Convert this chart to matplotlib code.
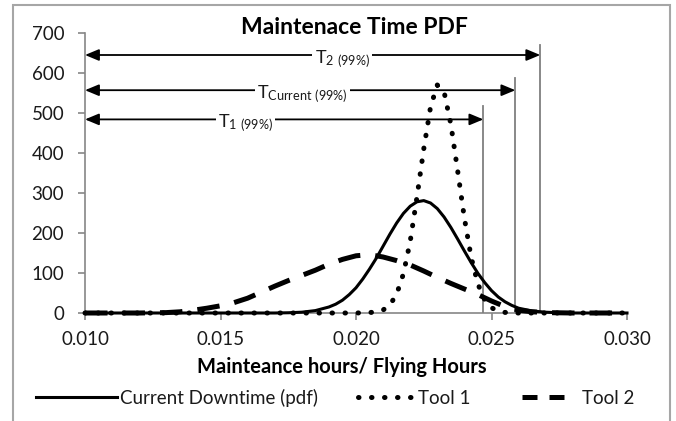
import matplotlib
matplotlib.use("Agg")
import matplotlib.pyplot as plt
from matplotlib.patches import Rectangle
from matplotlib.lines import Line2D

plt.rcParams['font.family'] = ['Lato', 'DejaVu Sans']
plt.rcParams['mathtext.default'] = 'regular'

# Current downtime pdf (solid)
cur_x = [0.010, 0.0170, 0.0175, 0.0180, 0.0185, 0.01900, 0.01925, 0.01950, 0.01975,
         0.02000, 0.02025, 0.02050, 0.02075, 0.02100, 0.02125, 0.02150, 0.02175,
         0.02200, 0.02225, 0.02250, 0.02275, 0.02300, 0.02325, 0.02350, 0.02375,
         0.02400, 0.02425, 0.02450, 0.02475, 0.02500, 0.02525, 0.02550, 0.02575,
         0.02600, 0.02650, 0.02700, 0.02750, 0.0280, 0.030]
cur_y = [0, 0, 0.6, 2, 6, 15, 22, 32, 46,
         63, 85, 110, 137, 167, 197, 225, 249,
         267, 278, 281, 275, 261, 240, 214, 185,
         155, 126, 99, 76, 56, 40, 28, 19,
         12, 5, 2, 0.5, 0, 0]

# Tool 1 (dotted)
t1_x = [0.010, 0.0200, 0.02050, 0.02075, 0.02100, 0.02125, 0.02150, 0.02175, 0.02200,
        0.02225, 0.02250, 0.02275, 0.02300, 0.02325, 0.02350, 0.02375, 0.02400,
        0.02425, 0.02450, 0.02475, 0.02500, 0.02525, 0.02550, 0.02575, 0.0260, 0.030]
t1_y = [0, 0, 1, 3, 7.5, 20, 47, 98, 179,
        290, 410, 515, 570, 553, 472, 356, 237,
        139, 72, 33, 13, 5, 1.5, 0.4, 0, 0]

# Tool 2 (dashed)
t2_x = [0.010, 0.0120, 0.0130, 0.0135, 0.0140, 0.0145, 0.0150, 0.0155, 0.0160, 0.0165,
        0.0170, 0.0175, 0.0180, 0.0185, 0.0190, 0.0195, 0.0200, 0.0205, 0.0210,
        0.0215, 0.0220, 0.0225, 0.0230, 0.0235, 0.0240, 0.0245, 0.0250, 0.0255,
        0.0260, 0.0265, 0.0270, 0.0280, 0.030]
t2_y = [0, 0, 1, 3, 7, 12, 18, 26, 37, 52,
        67, 81, 94, 107, 122, 134, 143, 146, 140,
        131, 120, 105, 89, 74, 60, 46, 30, 16,
        7, 3, 1, 0, 0]

# 99% limits: label, x position, line top, arrow height, label centre
t_labels = ['T$_{1\\ (99\\%)}$', 'T$_{Current\\ (99\\%)}$', 'T$_{2\\ (99\\%)}$']
t_values = [0.02470, 0.02588, 0.02680]
t_tops = [518, 588, 670]
t_arrow_y = [484, 557, 645]
t_label_x = [0.01592, 0.01802, 0.01949]

series_names = ['Current Downtime (pdf)', 'Tool 1', 'Tool 2']

DOT = (0, (0.1, 2.5))
DASH = (0, (4.5, 3))

fig = plt.figure(figsize=(6.76, 4.21), dpi=100)
ax = fig.add_axes([85/676, 1-313/421, 542/676, 280/421])

# chart border
fig.patches.append(Rectangle((13/676, -0.1), 657/676, 1.1 - 5/421, transform=fig.transFigure,
                             fill=False, edgecolor='#a6a6a6', lw=1.5))

ax.plot(cur_x, cur_y, color='black', lw=2.2, clip_on=False, zorder=4)
ax.plot(t1_x, t1_y, color='black', lw=3.6, linestyle=DOT,
        dash_capstyle='round', clip_on=False, zorder=4)
ax.plot(t2_x, t2_y, color='black', lw=3.6, linestyle=DASH, clip_on=False, zorder=4)

for lab, xv, top, ay, lx in zip(t_labels, t_values, t_tops, t_arrow_y, t_label_x):
    ax.plot([xv, xv], [0, top], color='#7f7f7f', lw=1.3, zorder=3)
    ax.annotate('', xy=(0.010, ay), xytext=(xv, ay),
                arrowprops=dict(arrowstyle='<|-|>,head_length=0.6,head_width=0.25',
                                color='black', lw=1.3, shrinkA=0, shrinkB=0,
                                mutation_scale=14), zorder=5)
    ax.annotate(lab, xy=(lx, ay), xytext=(0, -3), textcoords='offset points',
                ha='center', va='center', fontsize=13, color='#1a1a1a', zorder=6,
                bbox=dict(facecolor='white', edgecolor='none', pad=1.5))

ax.set_xlim(0.010, 0.030)
ax.set_ylim(0, 700)
ax.set_xticks([0.010, 0.015, 0.020, 0.025, 0.030])
ax.set_xticklabels(['0.010', '0.015', '0.020', '0.025', '0.030'])
ax.set_yticks(range(0, 701, 100))
for s in ['top', 'right']:
    ax.spines[s].set_visible(False)
for s in ['left', 'bottom']:
    ax.spines[s].set_color('#868686')
    ax.spines[s].set_linewidth(1.2)
ax.tick_params(axis='both', colors='#868686', labelcolor='#1a1a1a', labelsize=13.5,
               length=5, width=1.2)
ax.tick_params(axis='y', pad=10)
ax.tick_params(axis='x', pad=8)

fig.text(354/676, 1-27/421, 'Maintenace Time PDF', ha='center', va='center',
         fontsize=16.5, fontweight='bold', color='black')
fig.text(342/676, 1-367/421, 'Mainteance hours/ Flying Hours', ha='center', va='center',
         fontsize=14.5, fontweight='bold', color='black')

# legend entries placed one by one (Excel uses different sample lengths)
handles = [Line2D([], [], color='black', lw=2.2),
           Line2D([], [], color='black', lw=3.6, linestyle=DOT, dash_capstyle='round'),
           Line2D([], [], color='black', lw=3.6, linestyle=(0, (3.0, 2.4)))]
leg_x = [36/676, 358/676, 522/676]
leg_len = [4.3, 2.9, 2.3]
leg_pad = [0.2, 0.3, 0.9]
for h, name, lx, hl, tp in zip(handles, series_names, leg_x, leg_len, leg_pad):
    fig.legend([h], [name], loc='center left', bbox_to_anchor=(lx, 1-398/421),
               frameon=False, fontsize=13.5, handlelength=hl, handletextpad=tp,
               borderpad=0, borderaxespad=0, labelcolor='#1a1a1a')

fig.savefig('out.png', dpi=100)
